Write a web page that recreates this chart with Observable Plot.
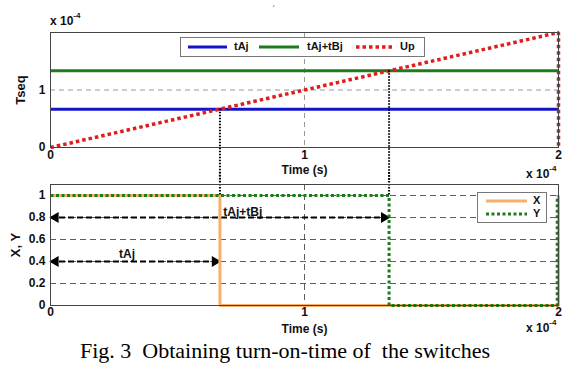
<!DOCTYPE html>
<html><head><meta charset="utf-8">
<script src="https://cdn.jsdelivr.net/npm/d3@7"></script>
<script src="https://cdn.jsdelivr.net/npm/@observablehq/plot@0.6"></script>
<style>
body{margin:0;background:#fff;width:570px;height:370px;position:relative;overflow:hidden;font-family:"Liberation Sans",Arial,sans-serif;}
.chart{position:absolute;left:0;}
.abs{position:absolute;white-space:nowrap;}
.sci{font:bold 12px "Liberation Sans",Arial,sans-serif;color:#111;}
.sci sup{font-size:8px;position:relative;top:-2px;}
.leg{position:absolute;border:1px solid #777;background:#fff;font:bold 11px "Liberation Sans",Arial,sans-serif;color:#111;}
.leg svg{position:absolute;left:0;top:0;}
#caption{position:absolute;left:0;width:570px;top:338px;line-height:22px;text-align:center;font:22px "Liberation Serif","Times New Roman",serif;color:#000;white-space:nowrap;}
</style>
</head><body>
<div id="topChart" class="chart" style="top:0px"></div>
<div id="botChart" class="chart" style="top:172px"></div>
<script>
// ---- data (time in units of 1e-4 s) ----
const timeTicks = [0, 1, 2];
const tseqTicks = [0, 1];
const xyTicks = [0, 0.2, 0.4, 0.6, 0.8, 1];
const xyGrid = [0.2, 0.4, 0.6, 0.8, 1];
const seqTime = [0, 2];
const tAjValues = [0.667, 0.667];
const tAjBjValues = [1.333, 1.333];
const upTime = [0, 2, 2];
const upValues = [0, 2, 0];
const xTime = [0, 0.667, 0.667, 2, 2];
const xValues = [1, 1, 0, 0, 1];
const yTime = [0, 1.333, 1.333, 1.995, 1.995];
const yValues = [1, 1, 0, 0, 1];
const switchTimes = [0.667, 1.333];
const switchLevels = [0.667, 1.333];
const arrowLabels = ["tAj", "tAj+tBj"];
const arrowLevels = [0.4, 0.8];
const arrowStart = [0, 0];
const arrowEnds = [0.667, 1.333];
const arrowLabelX = [0.27, 0.68];
const arrowLabelY = [0.47, 0.845];

const zip = (xs, ys) => xs.map((x, i) => ({t: x, v: ys[i]}));
const switches = switchTimes.map((t, i) => ({t, v: switchLevels[i]}));
const arrows = arrowLabels.map((label, i) => ({label, level: arrowLevels[i], start: arrowStart[i], end: arrowEnds[i], lx: arrowLabelX[i], ly: arrowLabelY[i]}));

const font = {fontFamily: "'Liberation Sans', Arial, sans-serif", fontSize: "11px", fontWeight: "bold", background: "transparent", overflow: "visible", color: "#111"};
const fmt = d3.format("~g");

const topPlot = Plot.plot({
  width: 570, height: 182,
  marginLeft: 50, marginRight: 12, marginTop: 32, marginBottom: 35,
  style: font,
  x: {domain: [0, 2]},
  y: {domain: [0, 2]},
  marks: [
    Plot.ruleY([1], {stroke: "#999", strokeDasharray: "5,4", strokeWidth: 1}),
    Plot.ruleX([1], {stroke: "#999", strokeDasharray: "5,4", strokeWidth: 1}),
    Plot.line(zip(seqTime, tAjValues), {x: "t", y: "v", stroke: "#1414c8", strokeWidth: 3, strokeLinecap: "butt"}),
    Plot.line(zip(seqTime, tAjBjValues), {x: "t", y: "v", stroke: "#1c7c1c", strokeWidth: 3, strokeLinecap: "butt"}),
    Plot.line(zip(upTime, upValues), {x: "t", y: "v", stroke: "#e01c1c", strokeWidth: 3.5, strokeDasharray: "3.5,3", strokeLinecap: "butt", strokeLinejoin: "miter"}),
    Plot.ruleX(switches, {x: "t", y1: "v", y2: 0, insetBottom: -35, stroke: "#000", strokeWidth: 2, strokeDasharray: "1.5,1.5"}),
    Plot.frame({stroke: "#444", strokeWidth: 1}),
    Plot.axisX({ticks: timeTicks, tickFormat: fmt, tickSize: 0, tickPadding: 3, label: null, fontSize: 12}),
    Plot.axisX({ticks: [], label: "Time (s)", labelAnchor: "center", labelOffset: 26, labelArrow: "none", fontSize: 12}),
    Plot.axisY({ticks: tseqTicks, tickFormat: fmt, tickSize: 0, tickPadding: 5, label: null, fontSize: 12}),
    Plot.axisY({ticks: [], label: "Tseq", labelAnchor: "center", labelOffset: 35, labelArrow: "none", fontSize: 13})
  ]
});
document.getElementById("topChart").appendChild(topPlot);

const botPlot = Plot.plot({
  width: 570, height: 163,
  marginLeft: 50, marginRight: 12, marginTop: 12, marginBottom: 30,
  style: font,
  x: {domain: [0, 2]},
  y: {domain: [0, 1.1]},
  marks: [
    Plot.ruleY(xyGrid, {stroke: "#333", strokeDasharray: "6,4", strokeWidth: 0.8}),
    Plot.ruleX([1], {stroke: "#333", strokeDasharray: "6,4", strokeWidth: 0.8}),
    Plot.ruleY(arrows, {y: "level", x1: "start", x2: "end", stroke: "#000", strokeWidth: 2, strokeDasharray: "6,3"}),
    Plot.dot(arrows, {x: "start", y: "level", symbol: "triangle", rotate: -90, fill: "#000", r: 4, dx: 5}),
    Plot.dot(arrows, {x: "end", y: "level", symbol: "triangle", rotate: 90, fill: "#000", r: 4, dx: -5}),
    Plot.text(arrows, {x: "lx", y: "ly", text: "label", textAnchor: "start", fontSize: 12, fontWeight: "bold", fill: "#111"}),
    Plot.line(zip(xTime, xValues), {x: "t", y: "v", stroke: "#f6b06c", strokeWidth: 3, strokeLinecap: "butt", strokeLinejoin: "miter"}),
    Plot.line(zip(yTime, yValues), {x: "t", y: "v", stroke: "#1c7c1c", strokeWidth: 3, strokeDasharray: "3,2.5", strokeLinecap: "butt", strokeLinejoin: "miter"}),
    Plot.ruleX(switches, {x: "t", y1: 1.1, y2: 1, insetTop: -12, stroke: "#000", strokeWidth: 2, strokeDasharray: "1.5,1.5"}),
    Plot.frame({stroke: "#444", strokeWidth: 1}),
    Plot.axisX({ticks: timeTicks, tickFormat: fmt, tickSize: 0, tickPadding: 2, label: null, fontSize: 12}),
    Plot.axisX({ticks: [], label: "Time (s)", labelAnchor: "center", labelOffset: 27, labelArrow: "none", fontSize: 12}),
    Plot.axisY({ticks: xyTicks, tickFormat: fmt, tickSize: 0, tickPadding: 5, label: null, fontSize: 12}),
    Plot.axisY({ticks: [], label: "X, Y", labelAnchor: "center", labelOffset: 40, labelArrow: "none", fontSize: 13})
  ]
});
document.getElementById("botChart").appendChild(botPlot);
</script>

<div class="abs sci" style="left:50px;top:13px;">x 10<sup>-4</sup></div>
<div class="abs sci" style="left:526px;top:166px;">x 10<sup>-4</sup></div>
<div class="abs sci" style="left:526px;top:320px;">x 10<sup>-4</sup></div>
<div class="abs" style="left:272px;top:4px;font-size:9px;color:#333;">ˊ</div>

<div class="leg" style="left:180px;top:37px;width:243px;height:18px;">
  <svg width="243" height="18">
    <line x1="7" y1="9" x2="46" y2="9" stroke="#1414c8" stroke-width="3"/>
    <line x1="78" y1="9" x2="118" y2="9" stroke="#1c7c1c" stroke-width="3"/>
    <line x1="175" y1="9" x2="212" y2="9" stroke="#e01c1c" stroke-width="3.5" stroke-dasharray="3.5,3"/>
  </svg>
  <span class="abs" style="left:53px;top:2px;">tAj</span>
  <span class="abs" style="left:126px;top:2px;">tAj+tBj</span>
  <span class="abs" style="left:219px;top:2px;">Up</span>
</div>
<div class="leg" style="left:477px;top:192px;width:68px;height:29px;">
  <svg width="68" height="29">
    <line x1="8" y1="8" x2="49" y2="8" stroke="#f6b06c" stroke-width="3"/>
    <line x1="8" y1="21" x2="49" y2="21" stroke="#1c7c1c" stroke-width="3" stroke-dasharray="3,2.5"/>
  </svg>
  <span class="abs" style="left:55px;top:1px;">X</span>
  <span class="abs" style="left:55px;top:14px;">Y</span>
</div>
<div id="caption">Fig. 3&nbsp; Obtaining turn-on-time of&nbsp; the switches</div>
</body></html>
